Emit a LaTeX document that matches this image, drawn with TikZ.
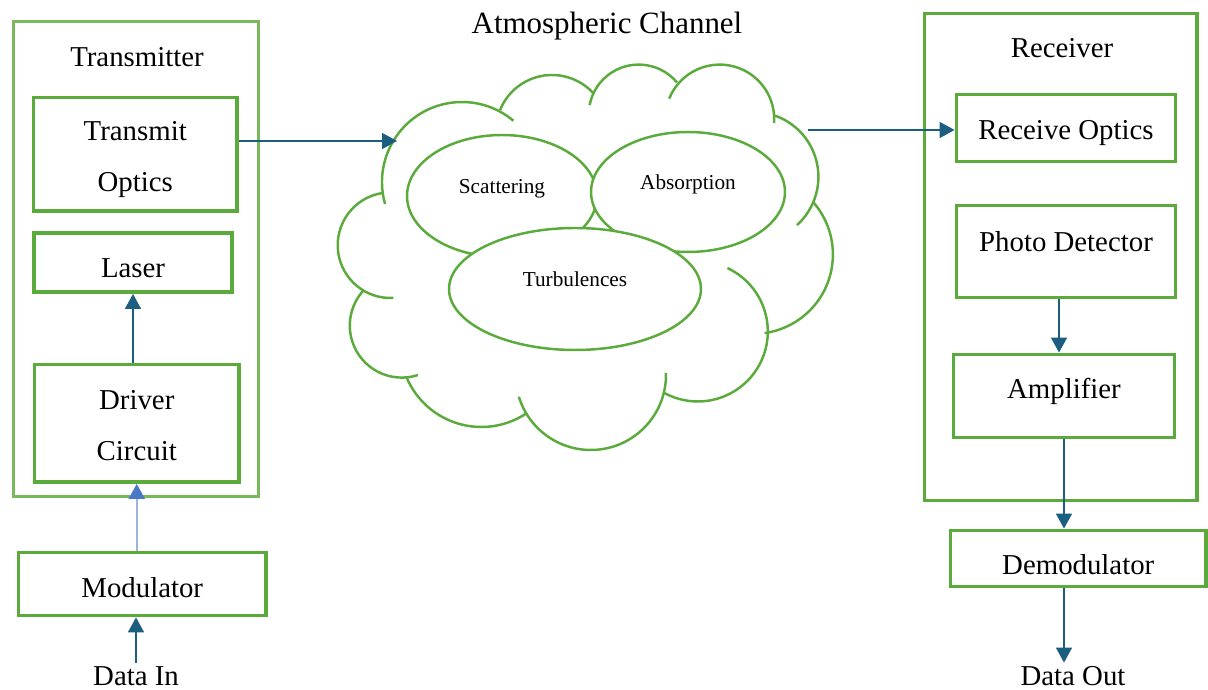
\documentclass[tikz,border=0pt]{standalone}
\usepackage{fontspec}
\setmainfont{Liberation Serif}
\usetikzlibrary{arrows.meta,shapes.geometric,calc}
\definecolor{gbox}{HTML}{5AAA3C}
\definecolor{gout}{HTML}{7AB85C}
\definecolor{arr}{HTML}{1B5E80}
\definecolor{arrlt}{HTML}{9DB4E0}
\definecolor{arrhd}{HTML}{4A78C8}
\newcommand\mainsz{\fontsize{16.4}{19.7}\selectfont}
\newcommand\titlesz{\fontsize{17.6}{21}\selectfont}
\newcommand\smallsz{\fontsize{12.1}{14.5}\selectfont}
\newcommand\twol[2]{\begin{tabular}[b]{@{}c@{}}#1\\[9.3pt]#2\end{tabular}}
\newcommand\lobe[5]{\draw[cl] (#1,#2) ++(#3:#5) arc[start angle=#3,end angle=#4,radius=#5];}
\begin{document}
\begin{tikzpicture}[x=0.02cm,y=0.02cm,
  box/.style={draw=gbox,line width=2.2pt,font=\mainsz,text height=10.9pt,text depth=0pt,inner sep=0pt},
  outerbox/.style={draw=#1,inner sep=0pt},
  plain/.style={font=\mainsz,text height=10.9pt,text depth=0pt,inner sep=2pt},
  cl/.style={draw=gbox,line width=1.4pt},
  ell/.style={ellipse,draw=gbox,line width=1.4pt,fill=white,inner sep=0pt,font=\smallsz,text height=8pt},
  arrow/.style={draw=arr,line width=0.85pt,-{Triangle[length=0.3cm,width=0.32cm]}},
  arrowlt/.style={draw=arrlt,line width=1.2pt,-{Triangle[length=0.3cm,width=0.32cm,color=arrhd]}}]
\useasboundingbox (0,0) rectangle (1208,690);

% Transmitter
\node[outerbox=gout,line width=1.7pt,minimum width=4.9cm,minimum height=9.5cm] (txouter) at (136,431) {};
\node[plain] (txtitle) at (137,633) {Transmitter};
\node[box,minimum width=4.07cm,minimum height=2.27cm,text height=42.7pt] (txopt) at (135.25,535.75) {\twol{Transmit}{Optics}};
\node[box,minimum width=3.96cm,minimum height=1.18cm,text height=17.2pt] (laser) at (133,427.5) {Laser};
\node[box,minimum width=4.09cm,minimum height=2.35cm,text height=42.7pt] (driver) at (136.75,266.75) {\twol{Driver}{Circuit}};
\node[box,minimum width=4.95cm,minimum height=1.26cm,text height=14.9pt] (modul) at (142.25,106) {Modulator};
\node[plain] (datain) at (136,14) {Data In};

% Receiver
\node[outerbox=gbox,line width=2.2pt,minimum width=5.45cm,minimum height=9.74cm] (rxouter) at (1060.75,433) {};
\node[plain] (rxtitle) at (1062,642) {Receiver};
\node[box,minimum width=4.38cm,minimum height=1.34cm,text height=12.6pt] (rxopt) at (1066,562) {Receive Optics};
\node[box,minimum width=4.38cm,minimum height=1.84cm,text depth=11.4pt] (photo) at (1066,438.5) {Photo Detector};
\node[box,minimum width=4.42cm,minimum height=1.66cm,text depth=8.5pt] (amp) at (1064,294) {Amplifier};
\node[box,minimum width=5.11cm,minimum height=1.12cm,text height=17.7pt] (demod) at (1078.25,131.5) {Demodulator};
\node[plain] (dataout) at (1073,14) {Data Out};

% Atmospheric channel
\node[plain,font=\titlesz,text height=11.65pt] (chtitle) at (607,666.5) {Atmospheric Channel};
\lobe{462}{508}{196}{50}{80}
\lobe{552}{559}{158}{43}{56}
\lobe{638.7}{575.4}{169}{40}{50}
\lobe{719.7}{570.9}{158}{-4}{54.5}
\lobe{753.5}{513.1}{72.5}{-48}{64.9}
\lobe{753.5}{435.5}{41}{-82}{79.4}
\lobe{697.8}{358.5}{65}{-118}{70}
\lobe{590.8}{315.2}{1.4}{-163}{75.2}
\lobe{481.4}{344.2}{-56}{-157}{81.2}
\lobe{401.8}{364.4}{-72}{-222}{52}
\lobe{390.5}{444.8}{98}{273}{52.8}
\node[ell,minimum width=3.8cm,minimum height=2.44cm,text depth=10.8pt] (scat) at (502,494) {Scattering};
\node[ell,minimum width=3.88cm,minimum height=2.4cm,text depth=11.4pt] (absn) at (688,498) {Absorption};
\node[ell,minimum width=5.04cm,minimum height=2.44cm,text depth=11.4pt] (turb) at (575,401) {Turbulences};
\coordinate (cin) at (397,549);
\coordinate (cout) at (808,560);

% Connectors
\draw[arrow] (txopt.east |- cin) -- (cin);
\draw[arrow] (cout) -- (cout -| rxopt.west);
\draw[arrow] (laser.south |- driver.north) -- (laser.south);
\draw[arrowlt] (driver.south |- modul.north) -- (driver.south);
\draw[arrow] (datain.north) -- (datain.north |- modul.south);
\draw[arrow] ([xshift=-0.14cm]photo.south) -- ([xshift=-0.14cm]photo.south |- amp.north);
\draw[arrow] (amp.south) -- (amp.south |- demod.north);
\draw[arrow] (amp.south |- demod.south) -- (amp.south |- dataout.north);
\end{tikzpicture}
\end{document}
